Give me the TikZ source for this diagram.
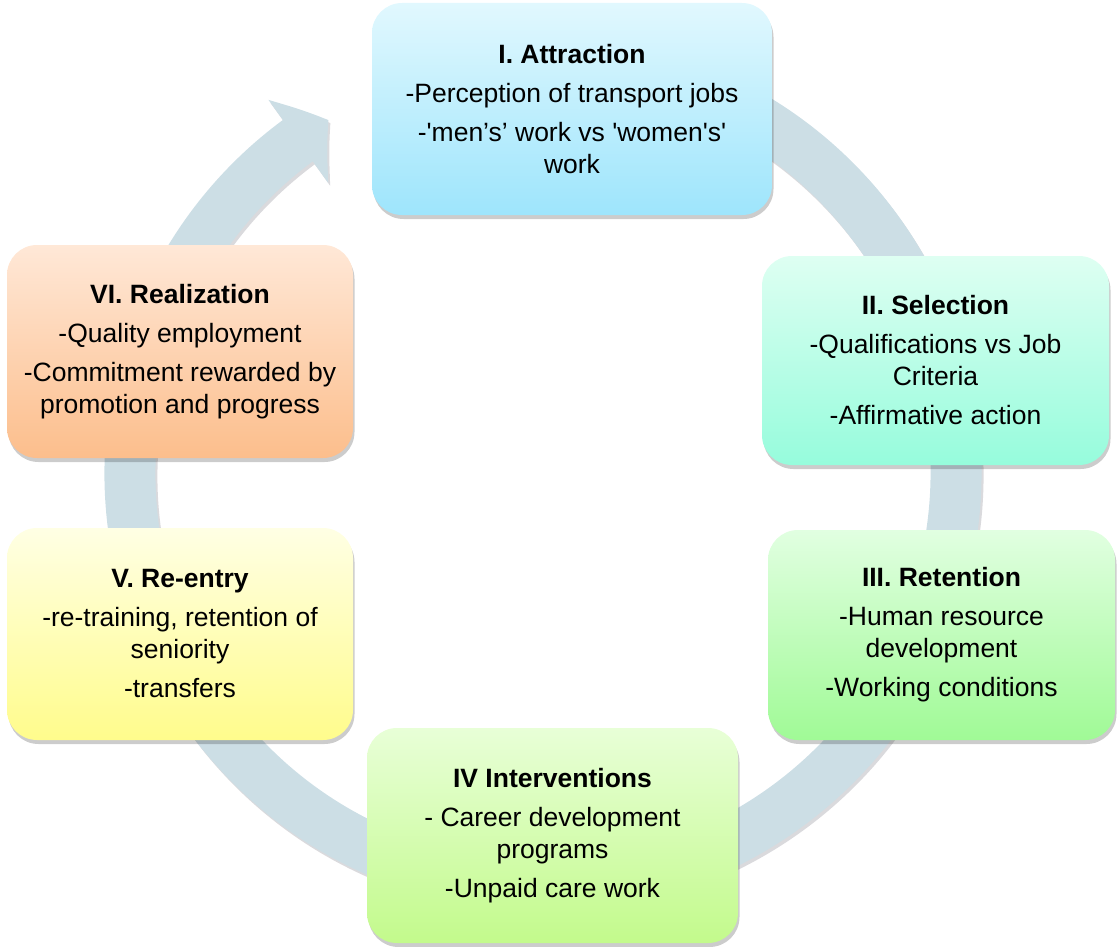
\documentclass[tikz,border=0pt]{standalone}
\usepackage{fontspec}
\setmainfont{Liberation Sans}
\usepackage{tikz}
\usetikzlibrary{arrows.meta,bending,shadows}
\usepackage{xcolor}
\definecolor{ringblue}{RGB}{204,222,229}
\definecolor{ringshade}{RGB}{218,218,221}
\definecolor{attrtop}{RGB}{225,248,254}
\definecolor{attrbot}{RGB}{158,229,252}
\definecolor{seltop}{RGB}{222,255,242}
\definecolor{selbot}{RGB}{150,252,220}
\definecolor{rettop}{RGB}{225,255,225}
\definecolor{retbot}{RGB}{160,250,150}
\definecolor{intvtop}{RGB}{232,255,215}
\definecolor{intvbot}{RGB}{195,250,140}
\definecolor{reentop}{RGB}{255,255,228}
\definecolor{reenbot}{RGB}{255,252,140}
\definecolor{realtop}{RGB}{255,232,215}
\definecolor{realbot}{RGB}{252,190,140}
\tikzstyle{ring} = [line width=51pt, -{Triangle[length=37pt, width=100pt, bend]}]
\tikzstyle{stage} = [rectangle, rounded corners=30pt, text centered, align=center, font=\fontsize{26.5}{32}\selectfont, shading=axis, drop shadow={shadow xshift=1.5pt, shadow yshift=-4pt, opacity=0.2, fill=black}]
\newcommand{\sqt}{\textquotesingle}

\begin{document}
\begin{tikzpicture}[x=1pt, y=-1pt]
\useasboundingbox (0,0) rectangle (1117,947);

% Cycle arrow behind the stages
\coordinate (ringc) at (543,473);
\draw[ring, ringshade] ([shift={(2,3)}]ringc) ++(280:413) arc[start angle=280, end angle=598.7, radius=413];
\draw[ring, ringblue] (ringc) ++(280:413) arc[start angle=280, end angle=598.7, radius=413];

% Six stages
\node (attr) [stage, minimum width=400pt, minimum height=212pt, top color=attrtop, bottom color=attrbot] at (572,109) {\textbf{I. Attraction}\\[7pt] -Perception of transport jobs\\[7pt] -\sqt men’s’ work vs \sqt women\sqt s\sqt\\ work};
\node (sel) [stage, minimum width=347pt, minimum height=209pt, top color=seltop, bottom color=selbot] at (935.5,360.5) {\textbf{II. Selection}\\[7pt] -Qualifications vs Job\\ Criteria\\[7pt] -Affirmative action};
\node (ret) [stage, minimum width=347pt, minimum height=210pt, top color=rettop, bottom color=retbot] at (941.5,635) {\textbf{III. Retention}\\[7pt] -Human resource\\ development\\[7pt] -Working conditions};
\node (intv) [stage, minimum width=371pt, minimum height=215pt, top color=intvtop, bottom color=intvbot] at (552.5,835.5) {\textbf{IV Interventions}\\[7pt] - Career development\\ programs\\[7pt] -Unpaid care work};
\node (reentry) [stage, minimum width=346pt, minimum height=212pt, top color=reentop, bottom color=reenbot] at (180,634) {\textbf{V. Re-entry}\\[7pt] -re-training, retention of\\ seniority\\[7pt] -transfers};
\node (real) [stage, minimum width=346pt, minimum height=213pt, top color=realtop, bottom color=realbot] at (180,351.5) {\textbf{VI. Realization}\\[7pt] -Quality employment\\[7pt] -Commitment rewarded by\\ promotion and progress};
\end{tikzpicture}
\end{document}
